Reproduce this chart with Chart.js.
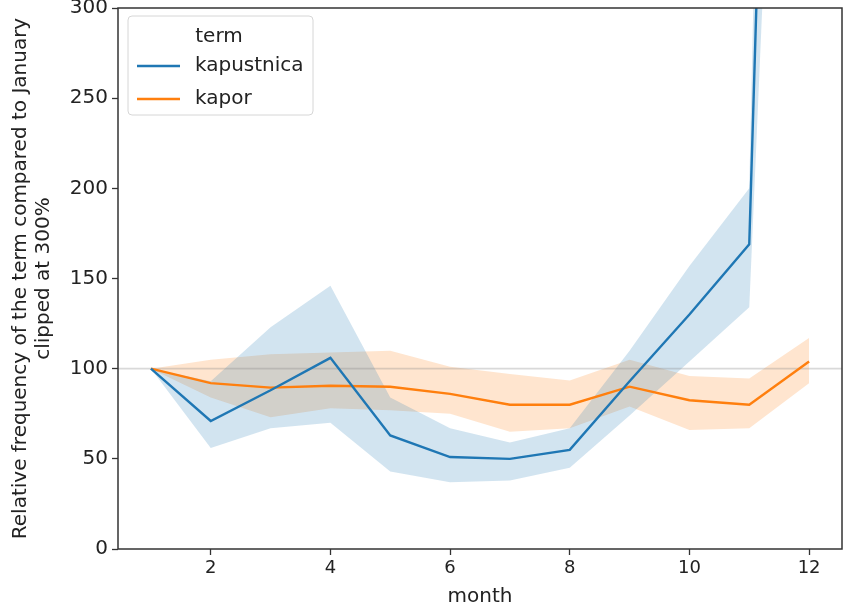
<!DOCTYPE html>
<html>
<head>
<meta charset="utf-8">
<script src="https://cdn.jsdelivr.net/npm/chart.js@4.4.1/dist/chart.umd.min.js"></script>
<style>
  html, body { margin: 0; padding: 0; background: #fff; }
  #wrap { width: 843px; height: 609px; }
</style>
</head>
<body>
<div id="wrap"><canvas id="chart" width="843" height="609"></canvas></div>
<script>
// ===============================
// DATA
// ===============================
const MONTHS = [1, 2, 3, 4, 5, 6, 7, 8, 9, 10, 11, 12];
const TERMS = ["kapustnica", "kapor"];

const KAPUSTNICA    = [100, 71, 88, 106, 63, 51, 50, 55, 93, 130, 169, 1280];
const KAPUSTNICA_LO = [100, 56, 67, 70, 43, 37, 38, 45, 74, 104, 134, 900];
const KAPUSTNICA_HI = [100, 93, 123, 146, 84, 67, 59, 67, 110, 157, 200, 1700];

const KAPOR    = [100, 92, 89.5, 90.5, 90, 86, 80, 80, 90, 82.5, 80, 104];
const KAPOR_LO = [100, 84, 73, 78, 77, 75, 65, 67, 79, 66, 67, 92];
const KAPOR_HI = [100, 105, 108, 109, 110, 101, 97, 93.5, 105, 96, 94.5, 117];

const X_TICKS = [2, 4, 6, 8, 10, 12];
const X_RANGE = [0.45, 12.55];
const Y_RANGE = [0, 300];
const REFERENCE = 100;

const BLUE = "#1f77b4";
const ORANGE = "#ff7f0e";
const FONT = "'DejaVu Sans', sans-serif";

const pts = (ys) => MONTHS.map((m, i) => ({ x: m, y: ys[i] }));

// ===============================
// PLUGINS
// ===============================
const frame = {
  id: "frame",
  afterDatasetsDraw(chart) {
    const { ctx, chartArea: a } = chart;
    ctx.save();
    ctx.strokeStyle = "#333";
    ctx.lineWidth = 1.5;
    ctx.strokeRect(a.left, a.top, a.right - a.left, a.bottom - a.top);
    ctx.restore();
  }
};

const boxLegend = {
  id: "boxLegend",
  afterDraw(chart) {
    const { ctx, chartArea: a } = chart;
    const x = a.left + 10, y = a.top + 8, w = 185, h = 99;
    ctx.save();
    ctx.beginPath();
    ctx.roundRect(x, y, w, h, 4);
    ctx.fillStyle = "rgba(255,255,255,0.85)";
    ctx.fill();
    ctx.strokeStyle = "#d6d6d6";
    ctx.lineWidth = 1;
    ctx.stroke();

    ctx.font = "20px " + FONT;
    ctx.fillStyle = "#222";
    ctx.textBaseline = "middle";
    ctx.textAlign = "center";
    ctx.fillText("term", x + 91, y + 21);

    ctx.textAlign = "left";
    [BLUE, ORANGE].forEach((c, i) => {
      const ly = y + 50 + i * 33;
      ctx.strokeStyle = c;
      ctx.lineWidth = 2.4;
      ctx.beginPath();
      ctx.moveTo(x + 9, ly);
      ctx.lineTo(x + 52, ly);
      ctx.stroke();
      ctx.fillStyle = "#222";
      ctx.fillText(TERMS[i], x + 67, ly);
    });
    ctx.restore();
  }
};

// ===============================
// CHART
// ===============================
const band = (hi, lo, color) => ([
  {
    label: "hi", data: pts(hi), borderWidth: 0, pointRadius: 0,
    backgroundColor: color, fill: "+1", order: 3
  },
  {
    label: "lo", data: pts(lo), borderWidth: 0, pointRadius: 0,
    backgroundColor: color, fill: false, order: 3
  }
]);

new Chart(document.getElementById("chart"), {
  type: "line",
  data: {
    datasets: [
      ...band(KAPUSTNICA_HI, KAPUSTNICA_LO, "rgba(31,119,180,0.2)"),
      ...band(KAPOR_HI, KAPOR_LO, "rgba(255,127,14,0.2)"),
      {
        label: "ref",
        data: X_RANGE.map(x => ({ x: x, y: REFERENCE })),
        borderColor: "rgba(128,128,128,0.3)", borderWidth: 1.8,
        pointRadius: 0, fill: false, order: 2
      },
      {
        label: TERMS[0], data: pts(KAPUSTNICA), borderColor: BLUE,
        borderWidth: 2.4, pointRadius: 0, fill: false, order: 1
      },
      {
        label: TERMS[1], data: pts(KAPOR), borderColor: ORANGE,
        borderWidth: 2.4, pointRadius: 0, fill: false, order: 1
      }
    ]
  },
  options: {
    responsive: false,
    animation: false,
    layout: { padding: { left: 0, top: 8, right: 1, bottom: 0 } },
    elements: { line: { tension: 0 } },
    plugins: {
      legend: { display: false },
      tooltip: { enabled: false }
    },
    scales: {
      x: {
        type: "linear",
        min: X_RANGE[0],
        max: X_RANGE[1],
        afterBuildTicks: (s) => { s.ticks = X_TICKS.map(v => ({ value: v })); },
        afterFit: (s) => { s.height = 60; s.paddingLeft = 0; s.paddingRight = 0; },
        border: { display: false },
        grid: { drawOnChartArea: false, tickLength: 6, color: "#333", tickWidth: 1.3 },
        ticks: { color: "#222", font: { family: FONT, size: 18 }, padding: 3, maxRotation: 0 },
        title: {
          display: true, text: "month", color: "#222",
          font: { family: FONT, size: 20 }, padding: { top: 0, bottom: 0 }
        }
      },
      y: {
        min: Y_RANGE[0],
        max: Y_RANGE[1],
        afterFit: (s) => { s.width = 118; s.paddingTop = 0; s.paddingBottom = 0; },
        border: { display: false },
        grid: { drawOnChartArea: false, tickLength: 6, color: "#333", tickWidth: 1.3 },
        ticks: { stepSize: 50, color: "#222", font: { family: FONT, size: 20 }, padding: 4 },
        title: {
          display: true,
          text: ["Relative frequency of the term compared to January", "clipped at 300%"],
          color: "#222",
          font: { family: FONT, size: 20, lineHeight: 1.15 },
          padding: { top: 9, bottom: 0 }
        }
      }
    }
  },
  plugins: [frame, boxLegend]
});
</script>
</body>
</html>
